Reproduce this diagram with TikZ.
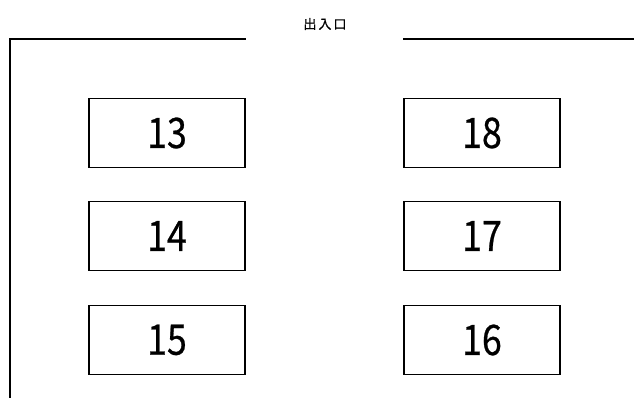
\documentclass[tikz,border=0pt]{standalone}
\usepackage{fontspec}
\setmainfont{Noto Sans CJK JP}
\newfontfamily\cjk{Noto Sans CJK JP}
\newfontfamily\digits[FakeBold=0.6,FakeStretch=0.85]{Noto Sans CJK JP}
\newfontfamily\lbl[FakeBold=0.8]{Noto Sans CJK JP}
\begin{document}
\begin{tikzpicture}[x=1pt,y=-1pt,
  booth/.style={draw=black,line width=1.3pt,minimum width=156pt,minimum height=69pt,inner sep=0pt,font=\digits\fontsize{42}{44}\selectfont},
  wall/.style={line width=1.6pt}]
\useasboundingbox (0,0) rectangle (634,398);
\node[font=\lbl\fontsize{13}{15}\selectfont] (door) at (325,24) {出\hspace{2pt}入\hspace{2pt}口};
\coordinate (tl) at (10,39);
\coordinate (gl) at (246,39);
\coordinate (gr) at (403,39);
\coordinate (tr) at (634,39);
\coordinate (bl) at (10,398);
\draw[wall] (bl) -- (tl) -- (gl);
\draw[wall] (gr) -- (tr);
\node[booth] (b13) at (167,133) {13};
\node[booth] (b14) at (167,236) {14};
\node[booth] (b15) at (167,340) {15};
\node[booth] (b18) at (482,133) {18};
\node[booth] (b17) at (482,236) {17};
\node[booth] (b16) at (482,340) {16};
\end{tikzpicture}
\end{document}
